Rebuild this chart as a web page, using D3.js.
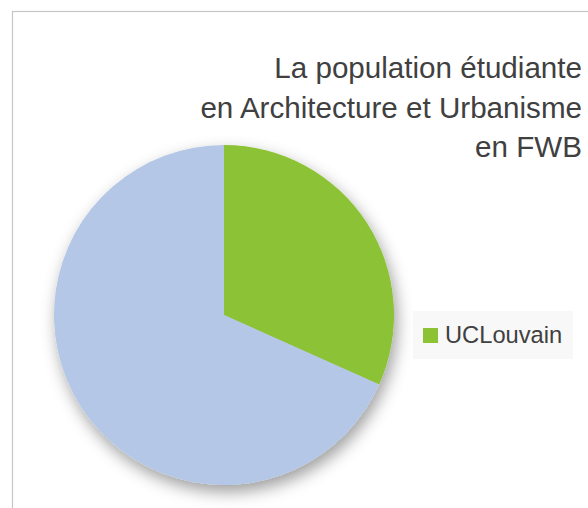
<!DOCTYPE html>
<html>
<head>
<meta charset="utf-8">
<script src="https://cdn.jsdelivr.net/npm/d3@7"></script>
<style>
  body { margin: 0; background: #fff; }
  text { font-family: "Liberation Sans", Arial, sans-serif; }
</style>
</head>
<body>
<div id="chart"></div>
<script>
const categories = ["UCLouvain", "Autres"]
const values = [31.7, 68.3]
const colors = ["#8cc234", "#b4c7e7"]
const titleLines = ["La population étudiante", "en Architecture et Urbanisme", "en FWB"]
const legendItems = ["UCLouvain"]

const width = 588, height = 508

const svg = d3.select("#chart")
    .append("svg")
    .attr("width", width)
    .attr("height", height)

// soft shadow under the pie
const defs = svg.append("defs")
const filter = defs.append("filter")
    .attr("id", "shadow")
    .attr("x", "-20%").attr("y", "-20%")
    .attr("width", "140%").attr("height", "140%")
filter.append("feDropShadow")
    .attr("dx", 3).attr("dy", 7)
    .attr("stdDeviation", 8)
    .attr("flood-color", "#000")
    .attr("flood-opacity", 0.38)

// chart frame (cropped on the right / bottom)
svg.append("rect")
    .attr("x", 12.5).attr("y", 11.5)
    .attr("width", width + 20).attr("height", height + 20)
    .attr("fill", "none")
    .attr("stroke", "#c6c6c6")
    .attr("stroke-width", 1.2)

const cx = 224, cy = 315, radius = 170

const pie = d3.pie().sort(null).value(d => d)
const arc = d3.arc().innerRadius(0).outerRadius(radius)

const g = svg.append("g")
    .attr("transform", "translate(" + cx + "," + cy + ")")

g.append("g")
    .attr("filter", "url(#shadow)")
    .selectAll("path")
    .data(pie(values))
    .enter()
    .append("path")
    .attr("d", arc)
    .attr("fill", (d, i) => colors[i])

// title, right aligned
svg.append("g")
    .selectAll("text")
    .data(titleLines)
    .enter()
    .append("text")
    .attr("x", 582)
    .attr("y", (d, i) => 78 + i * 39.5)
    .attr("text-anchor", "end")
    .attr("font-size", 29.6)
    .attr("fill", "#404040")
    .text(d => d)

// legend
const legend = svg.append("g")
legend.append("rect")
    .attr("x", 413).attr("y", 311)
    .attr("width", 160).attr("height", 48)
    .attr("fill", "#f8f8f8")

const items = legend.selectAll(".item")
    .data(legendItems)
    .enter()
    .append("g")
    .attr("class", "item")
    .attr("transform", (d, i) => "translate(423," + (328 + i * 30) + ")")
items.append("rect")
    .attr("width", 15).attr("height", 15)
    .attr("fill", d => colors[categories.indexOf(d)])
items.append("text")
    .attr("x", 22).attr("y", 15)
    .attr("font-size", 23.7)
    .attr("fill", "#404040")
    .text(d => d)
</script>
</body>
</html>
